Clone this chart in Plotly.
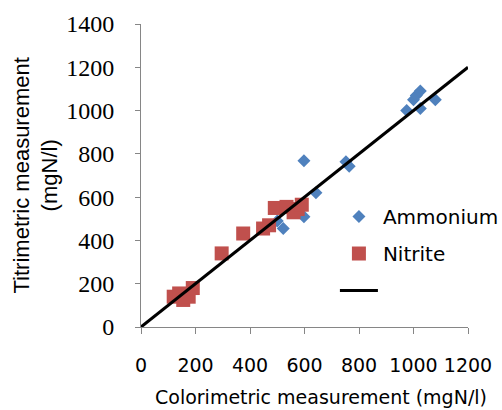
import plotly.graph_objects as go

# Data
ammonium_x = [500, 522, 598, 598, 642, 752, 764, 975, 1000, 1010, 1025, 1025, 1080]
ammonium_y = [490, 455, 509, 768, 620, 763, 743, 1000, 1050, 1070, 1090, 1010, 1050]

nitrite_x = [120, 140, 155, 175, 190, 296, 375, 448, 470, 491, 534, 560, 575, 590]
nitrite_y = [140, 155, 125, 140, 180, 340, 432, 455, 470, 550, 555, 530, 545, 565]

line_x = [0, 1200]
line_y = [0, 1200]

x_ticks = [0, 200, 400, 600, 800, 1000, 1200]
y_ticks = [0, 200, 400, 600, 800, 1000, 1200, 1400]

SANS = "DejaVu Sans"
ARIAL = "Liberation Sans"
SERIF = "Liberation Serif"

fig = go.Figure()
fig.add_trace(go.Scatter(
    x=ammonium_x, y=ammonium_y, mode="markers", name="Ammonium",
    legendgroup="a",
    marker=dict(symbol="diamond", size=10, color="#4F81BD"),
))
fig.add_trace(go.Scatter(
    x=nitrite_x, y=nitrite_y, mode="markers", name="Nitrite",
    legendgroup="b",
    marker=dict(symbol="square", size=14, color="#C0504D"),
))
fig.add_trace(go.Scatter(
    x=line_x, y=line_y, mode="lines", name=" ",
    legendgroup="c",
    line=dict(color="black", width=3),
))

fig.update_layout(
    width=502, height=410,
    margin=dict(l=141, r=34, t=24, b=83, autoexpand=False),
    paper_bgcolor="white", plot_bgcolor="white",
    font=dict(family=SANS, color="black"),
    showlegend=True,
    legend=dict(
        x=0.593, y=0.429, xanchor="left", yanchor="top",
        font=dict(size=20, family=SANS),
        traceorder="grouped", tracegroupgap=8,
        itemwidth=38,
        bgcolor="rgba(0,0,0,0)",
    ),
    xaxis=dict(
        range=[0, 1200], tickvals=x_ticks, ticktext=[str(v) for v in x_ticks],
        showgrid=False, zeroline=False,
        showline=True, linecolor="#868686", linewidth=1,
        ticks="outside", ticklen=6, tickcolor="#868686",
        tickfont=dict(size=19, family=SANS),
        tickangle=0, automargin=False,
        ticklabelstandoff=15,
    ),
    yaxis=dict(
        range=[0, 1400], tickvals=y_ticks, ticktext=[str(v) for v in y_ticks],
        showgrid=False, zeroline=False,
        showline=True, linecolor="#868686", linewidth=1,
        ticks="outside", ticklen=5, tickcolor="#868686",
        tickfont=dict(size=24, family=SERIF),
        automargin=False,
        ticklabelstandoff=16,
    ),
    annotations=[
        dict(text="Colorimetric measurement (mgN/l)", xref="paper", yref="paper",
             x=0.55, y=0, yshift=-70, xanchor="center", yanchor="middle",
             showarrow=False, font=dict(size=19, family=SANS)),
        dict(text="Titrimetric measurement<br>(mgN/l)", xref="paper", yref="paper",
             x=0, y=0.5, xshift=-106, xanchor="center", yanchor="middle",
             textangle=-90, showarrow=False, font=dict(size=22, family=ARIAL)),
    ],
)

fig.write_html("out.html")
